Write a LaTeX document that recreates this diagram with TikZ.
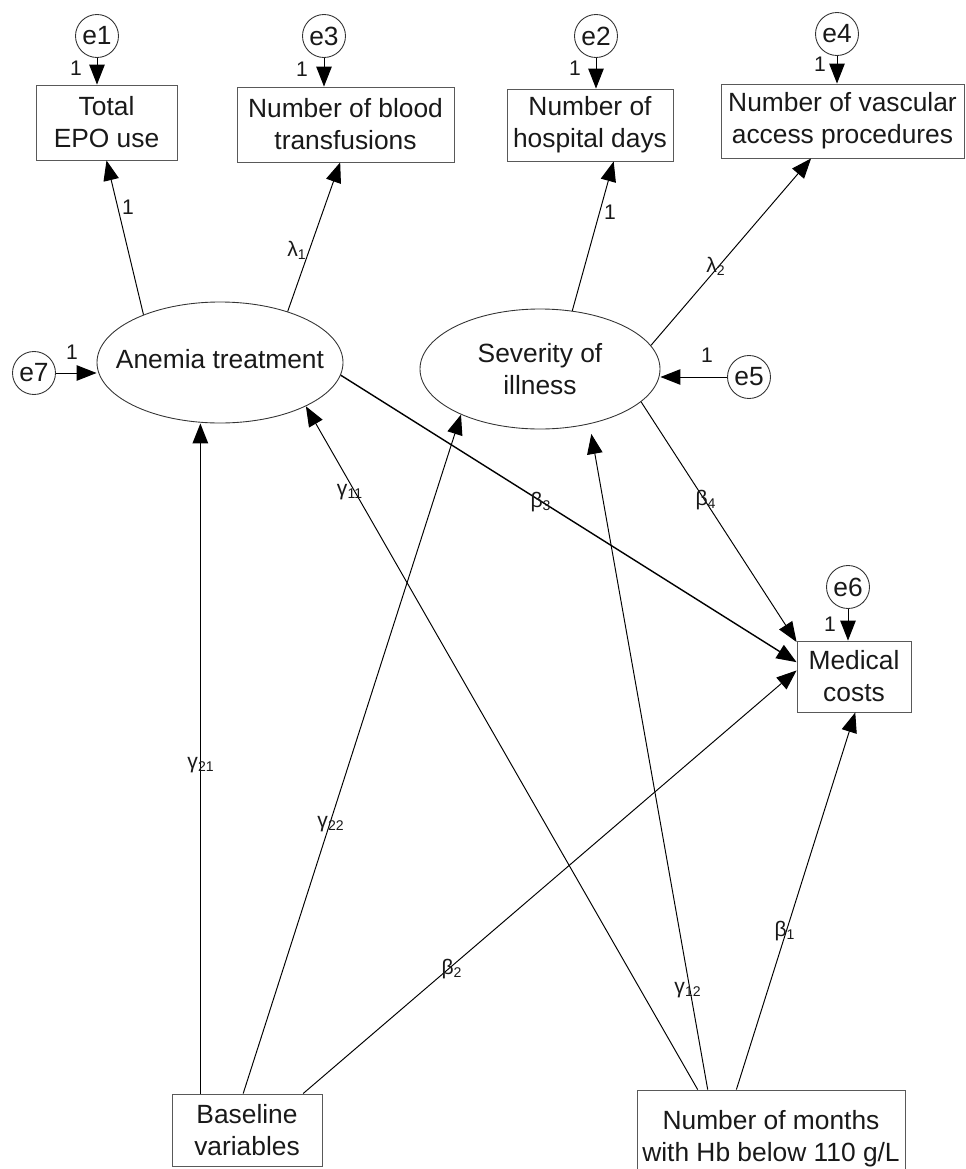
\documentclass[tikz,border=0pt]{standalone}
\usepackage{fontspec}
\setmainfont{Liberation Sans}
\usetikzlibrary{arrows.meta,shapes.geometric}
\newcommand{\boxfont}{\fontsize{15}{18.2}\selectfont}
\newcommand{\coeffont}{\fontsize{12}{14}\selectfont}
\newcommand{\coefsub}[2]{#1\textsubscript{#2}}

\begin{document}
\begin{tikzpicture}[x=0.2mm, y=-0.2mm, >=Triangle, text=black!90,
  obsbox/.style={draw=black!65, line width=0.5pt, inner sep=0pt, align=center, font=\boxfont},
  latent/.style={draw=black!80, ellipse, line width=0.5pt, inner sep=0pt},
  errc/.style={draw=black!80, circle, line width=0.5pt, inner sep=0pt, minimum size=8.6mm, font=\boxfont},
  path/.style={-{Triangle[length=4mm,width=3.1mm]}, line width=0.55pt},
  coef/.style={font=\coeffont, inner sep=0pt}]

\useasboundingbox (0,0) rectangle (966,1169);
\clip (0,0) rectangle (966,1169);

%% ===================== Observed indicators (top row) =====================
\node[obsbox, minimum width=28.2mm, minimum height=15mm]   (epo)   at (106.5,122.5) {Total\\EPO use};
\node[obsbox, minimum width=43.4mm, minimum height=15mm]   (blood) at (345.5,124.5) {Number of blood\\transfusions};
\node[obsbox, minimum width=33.2mm, minimum height=14.4mm] (hosp)  at (590,125)     {Number of\\hospital days};
\node[obsbox, minimum width=48.6mm, minimum height=14.8mm] (vasc)  at (842.5,121)   {Number of vascular\\access procedures};

% error terms above the indicators
\node[errc] (e1) at (97,36)  {e1};
\node[errc] (e3) at (324,36) {e3};
\node[errc] (e2) at (596,36) {e2};
\node[errc] (e4) at (837,34) {e4};
\foreach \e/\b in {e1/epo, e3/blood, e2/hosp, e4/vasc}{
  \draw[path] (\e) -- (\e |- \b.north);
}
\foreach \x/\y [count=\i] in {76/68, 302/69, 575/68, 820/64}{
  \node[coef] (fix\i) at (\x,\y) {1};
}

%% ===================== Latent variables =====================
\node[latent, minimum width=49.2mm, minimum height=24.2mm] (anemia) at (220,362.5) {};
\node[font=\boxfont, inner sep=0pt] (anemiatxt) at (220,359) {Anemia treatment};
\node[latent, minimum width=48mm, minimum height=24mm] (severity) at (540,369) {};
\node[font=\boxfont, inner sep=0pt, align=center] (severitytxt) at (540,369) {Severity of\\illness};

% disturbances
\node[errc] (e7) at (34,373)  {e7};
\node[errc] (e5) at (749,377) {e5};
\draw[path] (e7) -- (e7 -| anemia.west);
\draw[path] (e5) -- (e5 -| severity.east);
\node[coef] (fix7) at (72,352)  {1};
\node[coef] (fix5) at (707,355) {1};

% measurement paths
\draw[path] (anemia.148)  -- (epo.south);
\draw[path] (anemia.37)   -- (blood.-98);
\draw[path] (severity.61) -- (hosp.-57);
\draw[path] (severity.12) -- (vasc.-130);
\node[coef] (load1)  at (128,207) {1};
\node[coef] (lam1)   at (297,250) {\coefsub{λ}{1}};
\node[coef] (load2)  at (610,212) {1};
\node[coef] (lam2)   at (716,266) {\coefsub{λ}{2}};

%% ===================== Outcome =====================
\node[obsbox, minimum width=22.8mm, minimum height=14.2mm] (med) at (854,676.5) {Medical\\costs};
\node[errc] (e6) at (848,587) {e6};
\draw[path] (e6) -- (e6 |- med.north);
\node[coef] (fix6) at (830,624) {1};

%% ===================== Exogenous variables (bottom row) =====================
\node[obsbox, minimum width=30mm, minimum height=14.4mm]   (base)   at (247,1130) {Baseline\\variables};
\node[obsbox, minimum width=53.6mm, minimum height=19.6mm] (months) at (771,1139) {Number of months\\with Hb below 110 g/L};

% structural paths
\draw[path, line width=0.8pt] (anemia.-6) -- (med.166);
\draw[path] (severity.-18) -- (med.149);
\draw[path, line width=0.8pt] (base.142.5) -- (base.142.5 |- anemia.south);
\draw[path] (base.96) -- (severity.210);
\draw[path] (base.33) -- (med.174.5);
\draw[path] (months.146) -- (anemia.-27);
\draw[path, shorten >=2mm] (months.142) -- (severity.-48);
\draw[path] (months.125.5) -- (med.-88.4);

\node[coef] (b3)  at (541,502) {\coefsub{β}{3}};
\node[coef] (b4)  at (706,500) {\coefsub{β}{4}};
\node[coef] (g11) at (350,492) {\coefsub{γ}{11}};
\node[coef] (g21) at (201,765) {\coefsub{γ}{21}};
\node[coef] (g22) at (331,824) {\coefsub{γ}{22}};
\node[coef] (b2)  at (452,969) {\coefsub{β}{2}};
\node[coef] (g12) at (688,990) {\coefsub{γ}{12}};
\node[coef] (b1)  at (785,931) {\coefsub{β}{1}};

\end{tikzpicture}
\end{document}
